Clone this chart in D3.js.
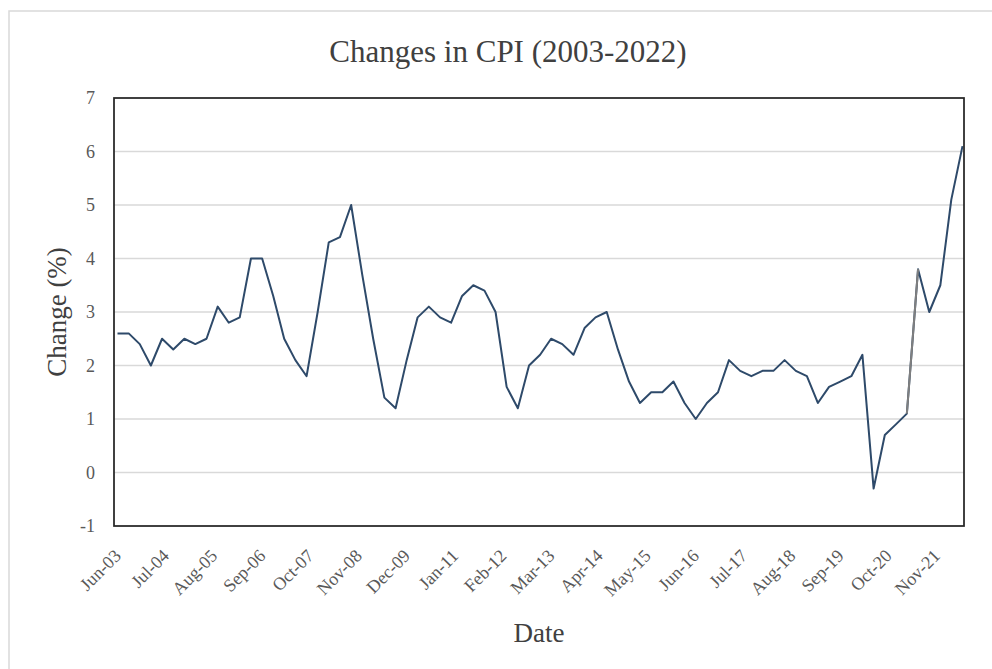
<!DOCTYPE html>
<html>
<head>
<meta charset="utf-8">
<script src="https://cdn.jsdelivr.net/npm/d3@7"></script>
<style>
	body { margin: 0; background: #fff; }
	text { font-family: "Liberation Serif", "DejaVu Serif", serif; }
</style>
</head>
<body>
<div id="chart"></div>
<script>
// quarterly CPI change, Jun-03 .. Jun-22
const quarters = [
	"2003-06", "2003-09", "2003-12",
	"2004-03", "2004-06", "2004-09", "2004-12",
	"2005-03", "2005-06", "2005-09", "2005-12",
	"2006-03", "2006-06", "2006-09", "2006-12",
	"2007-03", "2007-06", "2007-09", "2007-12",
	"2008-03", "2008-06", "2008-09", "2008-12",
	"2009-03", "2009-06", "2009-09", "2009-12",
	"2010-03", "2010-06", "2010-09", "2010-12",
	"2011-03", "2011-06", "2011-09", "2011-12",
	"2012-03", "2012-06", "2012-09", "2012-12",
	"2013-03", "2013-06", "2013-09", "2013-12",
	"2014-03", "2014-06", "2014-09", "2014-12",
	"2015-03", "2015-06", "2015-09", "2015-12",
	"2016-03", "2016-06", "2016-09", "2016-12",
	"2017-03", "2017-06", "2017-09", "2017-12",
	"2018-03", "2018-06", "2018-09", "2018-12",
	"2019-03", "2019-06", "2019-09", "2019-12",
	"2020-03", "2020-06", "2020-09", "2020-12",
	"2021-03", "2021-06", "2021-09", "2021-12",
	"2022-03", "2022-06"
];

const change = [
	2.6, 2.6, 2.4,
	2.0, 2.5, 2.3, 2.5,
	2.4, 2.5, 3.1, 2.8,
	2.9, 4.0, 4.0, 3.3,
	2.5, 2.1, 1.8, 3.0,
	4.3, 4.4, 5.0, 3.7,
	2.5, 1.4, 1.2, 2.1,
	2.9, 3.1, 2.9, 2.8,
	3.3, 3.5, 3.4, 3.0,
	1.6, 1.2, 2.0, 2.2,
	2.5, 2.4, 2.2, 2.7,
	2.9, 3.0, 2.3, 1.7,
	1.3, 1.5, 1.5, 1.7,
	1.3, 1.0, 1.3, 1.5,
	2.1, 1.9, 1.8, 1.9,
	1.9, 2.1, 1.9, 1.8,
	1.3, 1.6, 1.7, 1.8,
	2.2, -0.3, 0.7, 0.9,
	1.1, 3.8, 3.0, 3.5,
	5.1, 6.1
];

// tick labels every 13 months
const tickLabels = ["Jun-03", "Jul-04", "Aug-05", "Sep-06", "Oct-07", "Nov-08", "Dec-09", "Jan-11", "Feb-12",
	"Mar-13", "Apr-14", "May-15", "Jun-16", "Jul-17", "Aug-18", "Sep-19", "Oct-20", "Nov-21"];
const yTicks = [-1, 0, 1, 2, 3, 4, 5, 6, 7];

const width = 992, height = 669;
const margin = {top: 98, right: 28, bottom: 143, left: 114};

const parseQ = d3.timeParse("%Y-%m");
const parseTick = d3.timeParse("%b-%y");
const data = quarters.map((q, i) => ({date: parseQ(q), value: change[i]}));

const svg = d3.select("#chart").append("svg")
	.attr("width", width).attr("height", height);

// outer chart border
svg.append("rect").attr("x", 9).attr("y", 11).attr("width", 1000).attr("height", 700)
	.attr("fill", "#fff").attr("stroke", "#d9d9d9").attr("stroke-width", 1.5);

const x = d3.scaleTime()
	.domain(d3.extent(data, d => d.date))
	.range([margin.left + 3.5, width - margin.right - 1.5]);
const y = d3.scaleLinear()
	.domain([-1, 7])
	.range([height - margin.bottom, margin.top]);

// gridlines
svg.append("g").selectAll("line").data(yTicks.filter(t => t > -1 && t < 7)).join("line")
	.attr("x1", margin.left).attr("x2", width - margin.right)
	.attr("y1", d => y(d)).attr("y2", d => y(d))
	.attr("stroke", "#d9d9d9").attr("stroke-width", 1.5);

// y axis labels
const yAxis = svg.append("g")
	.attr("transform", `translate(${margin.left},0)`)
	.call(d3.axisLeft(y).tickValues(yTicks).tickSize(0).tickPadding(19).tickFormat(d => String(d)));
yAxis.select(".domain").remove();
yAxis.selectAll("text").attr("font-size", 18).attr("fill", "#595959")
	.style("font-family", "'Liberation Serif', serif");

// x axis labels
const xAxis = svg.append("g")
	.attr("transform", `translate(0,${height - margin.bottom})`)
	.call(d3.axisBottom(x).tickValues(tickLabels.map(parseTick)).tickSize(0).tickFormat(d3.timeFormat("%b-%y")));
xAxis.select(".domain").remove();
xAxis.selectAll("text")
	.attr("font-size", 18).attr("fill", "#595959")
	.attr("text-anchor", "end")
	.attr("dy", null).attr("y", 0)
	.attr("transform", "translate(4,31) rotate(-45)")
	.style("font-family", "'Liberation Serif', serif");

// line
const line = d3.line().x(d => x(d.date)).y(d => y(d.value));
svg.append("path").datum(data)
	.attr("fill", "none").attr("stroke", "#2e4a6a").attr("stroke-width", 2)
	.attr("stroke-linejoin", "round")
	.attr("d", line);
// gray segment Mar-21 -> Jun-21
svg.append("path").datum(data.slice(71, 73))
	.attr("fill", "none").attr("stroke", "#7f7f7f").attr("stroke-width", 2)
	.attr("d", line);

// plot frame
svg.append("rect")
	.attr("x", margin.left).attr("y", margin.top)
	.attr("width", width - margin.left - margin.right)
	.attr("height", height - margin.top - margin.bottom)
	.attr("fill", "none").attr("stroke", "#262626").attr("stroke-width", 1.75);

// titles
svg.append("text").attr("x", 508).attr("y", 62).attr("text-anchor", "middle")
	.attr("font-size", 31).attr("fill", "#404040").text("Changes in CPI (2003-2022)");
svg.append("text").attr("transform", `translate(66,${(margin.top + height - margin.bottom) / 2}) rotate(-90)`)
	.attr("text-anchor", "middle").attr("font-size", 27).attr("fill", "#404040").text("Change (%)");
svg.append("text").attr("x", (margin.left + width - margin.right) / 2).attr("y", 642)
	.attr("text-anchor", "middle").attr("font-size", 27).attr("fill", "#404040").text("Date");
</script>
</body>
</html>
